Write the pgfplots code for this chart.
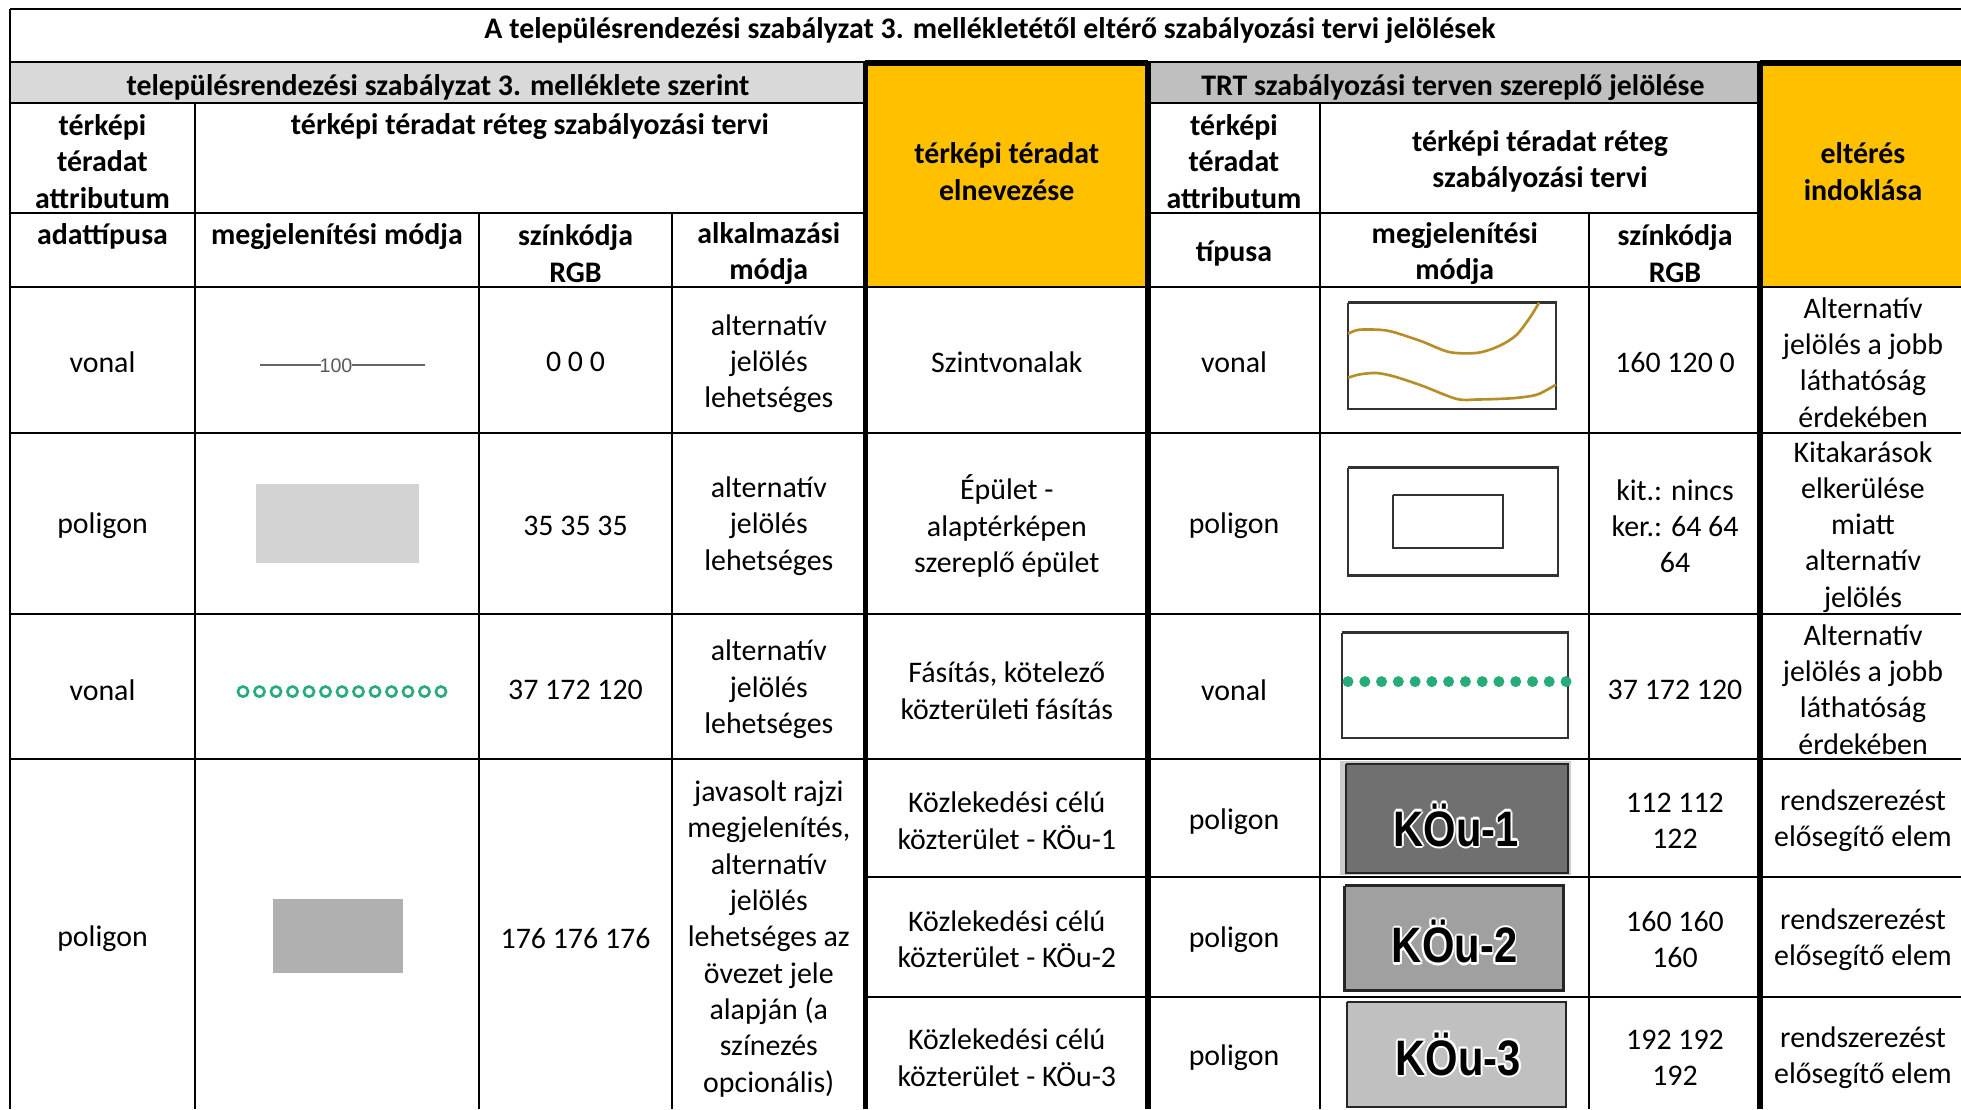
\documentclass[border=0pt]{standalone}
\usepackage{fontspec}
\setmainfont{Carlito}
\newfontfamily\arialfont{Liberation Sans}
\usepackage{pgfplots}
\pgfplotsset{compat=1.18}

\definecolor{hdrL}{RGB}{217,217,217}
\definecolor{hdrR}{RGB}{191,191,191}
\definecolor{yel}{RGB}{255,192,0}
\definecolor{treeg}{RGB}{37,172,120}
\definecolor{contour}{RGB}{182,142,40}
\definecolor{bldg}{RGB}{211,211,211}
\definecolor{road}{RGB}{176,176,176}
\definecolor{kouA}{RGB}{112,112,112}
\definecolor{kouB}{RGB}{160,160,160}
\definecolor{kouC}{RGB}{192,192,192}
\definecolor{boxline}{RGB}{50,50,50}

\newcommand{\tb}{\fontsize{8.5}{10.33}\selectfont}
\newcommand{\koufont}{\arialfont\bfseries\fontsize{13.5}{14}\selectfont}

% outlined label: white halo, black text
\newcommand{\kou}[3]{%
  \node[kl, text=white, xshift=-0.6pt] at (axis cs:#1,#2) {#3};
  \node[kl, text=white, xshift=0.6pt] at (axis cs:#1,#2) {#3};
  \node[kl, text=white, yshift=-0.6pt] at (axis cs:#1,#2) {#3};
  \node[kl, text=white, yshift=0.6pt] at (axis cs:#1,#2) {#3};
  \node[kl, text=white, xshift=-0.45pt, yshift=-0.45pt] at (axis cs:#1,#2) {#3};
  \node[kl, text=white, xshift=0.45pt, yshift=0.45pt] at (axis cs:#1,#2) {#3};
  \node[kl, text=white, xshift=-0.45pt, yshift=0.45pt] at (axis cs:#1,#2) {#3};
  \node[kl, text=white, xshift=0.45pt, yshift=-0.45pt] at (axis cs:#1,#2) {#3};
  \node[kl, text=black] at (axis cs:#1,#2) {#3};
}

\tikzset{
  cell/.style={align=center, font=\tb, inner sep=0pt, yshift=-0.6pt},
  head/.style={align=center, font=\tb\bfseries, inner sep=0pt, yshift=-0.6pt},
  thin/.style={line width=0.6pt},
  thick/.style={line width=1.45pt},
  kl/.style={font=\koufont, xscale=0.88, yscale=1.05, inner sep=0pt},
}

\begin{document}
\begin{tikzpicture}
\begin{axis}[
    width=196.1mm, height=110.9mm, scale only axis,
    xmin=0, xmax=1961, ymin=0, ymax=1109, y dir=reverse,
    hide axis, clip=false,
]
% header fills
\fill[hdrL] (axis cs:10,62) rectangle (axis cs:865,103);
\fill[hdrR] (axis cs:1148,62) rectangle (axis cs:1760,103);
\fill[yel] (axis cs:865,62) rectangle (axis cs:1148,287);
\fill[yel] (axis cs:1760,62) rectangle (axis cs:1961,287);

% horizontal rules
\draw[line width=0.7pt] (axis cs:10,9) -- (axis cs:1961,9);
\draw[line width=0.8pt] (axis cs:10,62) -- (axis cs:1961,62);
\draw[thick] (axis cs:865,63) -- (axis cs:1148,63);
\draw[thick] (axis cs:1760,63) -- (axis cs:1961,63);
\draw[thin] (axis cs:10,103) -- (axis cs:865,103);
\draw[thin] (axis cs:1148,103) -- (axis cs:1760,103);
\draw[thin] (axis cs:10,213) -- (axis cs:865,213);
\draw[thin] (axis cs:1148,213) -- (axis cs:1760,213);
\draw[line width=0.7pt] (axis cs:10,287) -- (axis cs:1961,287);
\draw[line width=0.7pt] (axis cs:10,433) -- (axis cs:1961,433);
\draw[line width=0.7pt] (axis cs:10,614) -- (axis cs:1961,614);
\draw[line width=0.7pt] (axis cs:10,759) -- (axis cs:1961,759);
\draw[line width=0.7pt] (axis cs:865,877) -- (axis cs:1961,877);
\draw[line width=0.7pt] (axis cs:865,997) -- (axis cs:1961,997);

% vertical rules
\draw[line width=0.7pt] (axis cs:10,9) -- (axis cs:10,1109);
\draw[thin] (axis cs:195,103) -- (axis cs:195,1109);
\draw[thin] (axis cs:479,213) -- (axis cs:479,1109);
\draw[thin] (axis cs:672,213) -- (axis cs:672,1109);
\draw[thick] (axis cs:865.5,62) -- (axis cs:865.5,1109);
\draw[thick] (axis cs:1148,62) -- (axis cs:1148,1109);
\draw[thin] (axis cs:1320,103) -- (axis cs:1320,1109);
\draw[thin] (axis cs:1589,213) -- (axis cs:1589,1109);
\draw[thick] (axis cs:1760,62) -- (axis cs:1760,1109);

% headings
\node[head] at (axis cs:990,28) {A településrendezési szabályzat 3. mellékletétől eltérő szabályozási tervi jelölések};
\node[head] at (axis cs:438,85) {településrendezési szabályzat 3. melléklete szerint};
\node[head] at (axis cs:1453,85) {TRT szabályozási terven szereplő jelölése};
\node[head] at (axis cs:102.5,159.5) {térképi\\téradat\\attributum};
\node[head] at (axis cs:530,124) {térképi téradat réteg szabályozási tervi};
\node[head] at (axis cs:1234,159.5) {térképi\\téradat\\attributum};
\node[head] at (axis cs:1540,159.5) {térképi téradat réteg\\szabályozási tervi};
\node[head] at (axis cs:1006.8,169.5) {térképi téradat\\elnevezése};
\node[head] at (axis cs:1863,169.5) {eltérés\\indoklása};
\node[head] at (axis cs:102.5,234) {adattípusa};
\node[head] at (axis cs:337,234) {megjelenítési módja};
\node[head] at (axis cs:575.5,251.4) {színkódja\\RGB};
\node[head] at (axis cs:768.8,251.4) {alkalmazási\\módja};
\node[head] at (axis cs:1234,251.4) {típusa};
\node[head] at (axis cs:1454.8,251.4) {megjelenítési\\módja};
\node[head] at (axis cs:1675,251.4) {színkódja\\RGB};

% row A: contour lines
\node[cell] at (axis cs:102.5,360.2) {vonal};
\addplot[color=black!60, line width=0.6pt] coordinates {(260,365) (321,365)};
\addplot[color=black!60, line width=0.6pt] coordinates {(352,365) (425,365)};
\node[font=\arialfont\fontsize{5.6}{6}\selectfont, text=black!65, inner sep=0pt] at (axis cs:336,366) {100};
\node[cell] at (axis cs:575.5,360.2) {0 0 0};
\node[cell] at (axis cs:768.8,361.5) {alternatív\\jelölés\\lehetséges};
\node[cell] at (axis cs:1006.8,360.2) {Szintvonalak};
\node[cell] at (axis cs:1234,360.2) {vonal};
\addplot[draw=boxline, line width=0.8pt] coordinates {(1348,302.7) (1556,302.7) (1556,409) (1348,409) (1348,302.7)};
\addplot[smooth, color=contour, line width=0.75pt] coordinates {
  (1348,333.8) (1358.5,329.8) (1379.5,329.8) (1393.5,332.1) (1421.5,341.3) (1449.5,352.1)
  (1477.6,352.8) (1498.6,346.2) (1516,335.4) (1530,317.4) (1539,302.7)};
\addplot[smooth, color=contour, line width=0.75pt] coordinates {
  (1348,377.9) (1358.5,374.6) (1376,373) (1393.5,376.3) (1421.5,385.5) (1456.5,398.9)
  (1477.6,399.5) (1512.6,398.2) (1537,394.6) (1556,384.5)};
\node[cell] at (axis cs:1675,360.2) {160 120 0};
\node[cell] at (axis cs:1863,360.2) {Alternatív\\jelölés a jobb\\láthatóság\\érdekében};

% row B: buildings
\node[cell] at (axis cs:102.5,523.4) {poligon};
\addplot[fill=bldg, draw=none] coordinates {(256,484) (419,484) (419,563) (256,563)};
\node[cell] at (axis cs:575.5,523.4) {35 35 35};
\node[cell] at (axis cs:768.8,524) {alternatív\\jelölés\\lehetséges};
\node[cell] at (axis cs:1006.8,524) {Épület -\\alaptérképen\\szereplő épület};
\node[cell] at (axis cs:1234,523.4) {poligon};
\addplot[draw=boxline, line width=0.8pt] coordinates {(1348,467.8) (1558,467.8) (1558,575.3) (1348,575.3) (1348,467.8)};
\addplot[draw=boxline, line width=0.6pt] coordinates {(1393,495.3) (1503,495.3) (1503,547.8) (1393,547.8) (1393,495.3)};
\node[cell] at (axis cs:1675,524) {kit.: nincs\\ker.: 64 64\\64};
\node[cell] at (axis cs:1863,524.7) {Kitakarások\\elkerülése\\miatt\\alternatív\\jelölés};

% row C: trees
\node[cell] at (axis cs:102.5,687.9) {vonal};
\addplot[only marks, mark=o, mark size=1.45pt, mark options={line width=0.75pt}, color=treeg] coordinates {
  (243,691.6) (259.5,691.6) (276,691.6) (292.5,691.6) (309,691.6) (325.5,691.6) (342,691.6)
  (358.5,691.6) (375,691.6) (391.5,691.6) (408,691.6) (424.5,691.6) (441,691.6)};
\node[cell] at (axis cs:575.5,687.9) {37 172 120};
\node[cell] at (axis cs:768.8,687.3) {alternatív\\jelölés\\lehetséges};
\node[cell] at (axis cs:1006.8,688.5) {Fásítás, kötelező\\közterületi fásítás};
\node[cell] at (axis cs:1234,687.9) {vonal};
\addplot[draw=boxline, line width=0.8pt] coordinates {(1342,632.9) (1568,632.9) (1568,737.9) (1342,737.9) (1342,632.9)};
\addplot[only marks, mark=*, mark size=1.35pt, color=treeg] coordinates {
  (1348,681.6) (1364.8,681.6) (1381.5,681.6) (1398.3,681.6) (1415.1,681.6) (1431.8,681.6) (1448.6,681.6)
  (1465.4,681.6) (1482.2,681.6) (1498.9,681.6) (1515.7,681.6) (1532.5,681.6) (1549.2,681.6) (1566,681.6)};
\node[cell] at (axis cs:1675,687.9) {37 172 120};
\node[cell] at (axis cs:1863,687.3) {Alternatív\\jelölés a  jobb\\láthatóság\\érdekében};

% row D: roads
\node[cell] at (axis cs:102.5,936.8) {poligon};
\addplot[fill=road, draw=none] coordinates {(272.7,899.3) (402.7,899.3) (402.7,973) (272.7,973)};
\node[cell] at (axis cs:575.5,936.8) {176 176 176};
\node[cell] at (axis cs:768.8,936.8) {javasolt rajzi\\megjelenítés,\\alternatív\\jelölés\\lehetséges az\\övezet jele\\alapján (a\\színezés\\opcionális)};

\node[cell] at (axis cs:1006.8,818.6) {Közlekedési célú\\közterület - KÖu-1};
\node[cell] at (axis cs:1234,819.2) {poligon};
\addplot[fill=black!20, draw=none] coordinates {(1340,760.7) (1571,760.7) (1571,875) (1340,875)};
\addplot[fill=kouA, draw=black!85, line width=0.7pt] coordinates {(1346,764) (1568,764) (1568,873) (1346,873) (1346,764)};
\kou{1456}{825}{KÖu-1}
\node[cell] at (axis cs:1675,818.6) {112 112\\122};
\node[cell] at (axis cs:1863,818.6) {rendszerezést\\elősegítő elem};

\node[cell] at (axis cs:1006.8,937.4) {Közlekedési célú\\közterület - KÖu-2};
\node[cell] at (axis cs:1234,937.5) {poligon};
\addplot[fill=kouB, draw=black!85, line width=0.7pt] coordinates {(1344.5,885.5) (1563.4,885.5) (1563.4,990.5) (1344.5,990.5) (1344.5,885.5)};
\kou{1454.6}{941.8}{KÖu-2}
\node[cell] at (axis cs:1675,937.4) {160 160\\160};
\node[cell] at (axis cs:1863,937.4) {rendszerezést\\elősegítő elem};

\node[cell] at (axis cs:1006.8,1055.6) {Közlekedési célú\\közterület - KÖu-3};
\node[cell] at (axis cs:1234,1055.6) {poligon};
\addplot[fill=kouC, draw=black!85, line width=0.7pt] coordinates {(1347,1001.8) (1566,1001.8) (1566,1106.9) (1347,1106.9) (1347,1001.8)};
\kou{1458.3}{1054.3}{KÖu-3}
\node[cell] at (axis cs:1675,1055.6) {192 192\\192};
\node[cell] at (axis cs:1863,1055.6) {rendszerezést\\elősegítő elem};
\end{axis}
\pgfresetboundingbox
\path (0,0) rectangle (196.1mm,110.9mm);
\end{tikzpicture}
\end{document}
